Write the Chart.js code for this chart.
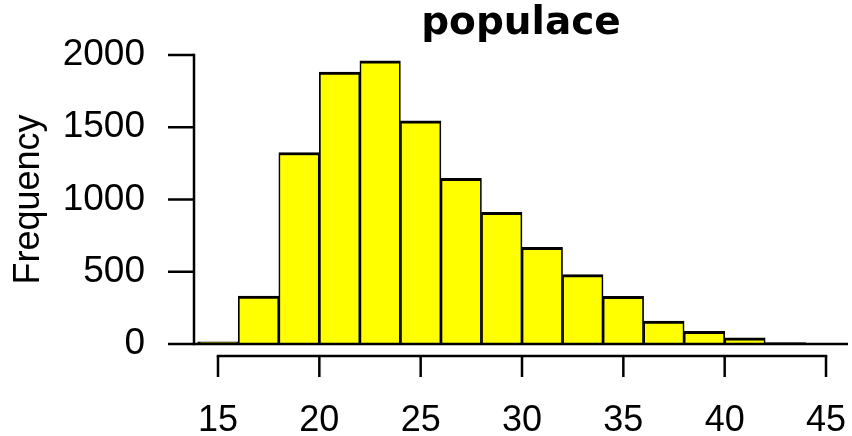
<!DOCTYPE html>
<html>
<head>
<meta charset="utf-8">
<title>populace</title>
<script src="https://cdn.jsdelivr.net/npm/chart.js@4"></script>
<style>
  html, body { margin: 0; padding: 0; background: #ffffff; }
  #wrap { width: 852px; height: 436px; }
</style>
</head>
<body>
<div id="wrap"><canvas id="hist" width="852" height="436"></canvas></div>
<script>
// Histogram of "populace": bins of width 2 starting at each value in binStarts
const binStarts = [14, 16, 18, 20, 22, 24, 26, 28, 30, 32, 34, 36, 38, 40, 42];
const binWidth = 2;
const frequencies = [15, 332, 1325, 1881, 1960, 1544, 1147, 912, 669, 480, 330, 159, 88, 42, 10];
const xTickValues = [15, 20, 25, 30, 35, 40, 45];
const yTickValues = [0, 500, 1000, 1500, 2000];
const chartTitle = 'populace';
const yAxisTitle = 'Frequency';

const FONT = "'Liberation Sans', Arial, Helvetica, sans-serif";
const TITLE_FONT = "'DejaVu Sans', 'Liberation Sans', sans-serif";

// R-style detached axes: y axis line + ticks, zero baseline, offset x axis
const baseAxes = {
  id: 'baseAxes',
  afterDatasetsDraw(chart) {
    const { ctx, chartArea, scales: { x, y } } = chart;
    ctx.save();
    ctx.strokeStyle = '#000';
    ctx.lineWidth = 2.5;
    ctx.lineCap = 'butt';
    const y0 = y.getPixelForValue(yTickValues[0]);
    const yTop = y.getPixelForValue(yTickValues[yTickValues.length - 1]);
    const axX = chartArea.left;
    // y axis line
    ctx.beginPath();
    ctx.moveTo(axX, y0 + 1.25);
    ctx.lineTo(axX, yTop - 1.25);
    ctx.stroke();
    // y ticks
    yTickValues.forEach(v => {
      const py = y.getPixelForValue(v);
      ctx.beginPath();
      ctx.moveTo(axX - 26, py);
      ctx.lineTo(axX, py);
      ctx.stroke();
    });
    // zero baseline across the plot
    ctx.beginPath();
    ctx.moveTo(axX, y0);
    ctx.lineTo(chartArea.right, y0);
    ctx.stroke();
    // x axis line, offset below the bars
    const axY = y0 + 12;
    const x1 = x.getPixelForValue(xTickValues[0]);
    const x2 = x.getPixelForValue(xTickValues[xTickValues.length - 1]);
    ctx.beginPath();
    ctx.moveTo(x1 - 1.25, axY);
    ctx.lineTo(x2 + 1.25, axY);
    ctx.stroke();
    xTickValues.forEach(v => {
      const px = x.getPixelForValue(v);
      ctx.beginPath();
      ctx.moveTo(px, axY);
      ctx.lineTo(px, axY + 21);
      ctx.stroke();
    });
    ctx.restore();
  }
};

const lastIdx = frequencies.length - 1;

new Chart(document.getElementById('hist'), {
  type: 'bar',
  data: {
    datasets: [{
      label: yAxisTitle,
      data: binStarts.map((s, i) => ({ x: s + binWidth / 2, y: frequencies[i] })),
      backgroundColor: '#FFFF00',
      borderColor: '#000000',
      borderWidth: (c) => ({
        top: 3,
        bottom: 0,
        left: c.dataIndex === 0 ? 3 : 1.7,
        right: c.dataIndex === lastIdx ? 3 : 1.7
      }),
      borderSkipped: 'start',
      barPercentage: 1,
      categoryPercentage: 1
    }]
  },
  options: {
    responsive: false,
    animation: false,
    events: [],
    layout: { padding: { left: 0, right: 4, top: 0, bottom: 0 } },
    plugins: {
      legend: { display: false },
      tooltip: { enabled: false },
      title: {
        display: true,
        text: chartTitle,
        fullSize: false,
        color: '#000',
        font: { family: TITLE_FONT, size: 39, weight: 'bold', lineHeight: 1.2 },
        padding: { top: 0, bottom: 8.2 }
      }
    },
    scales: {
      x: {
        type: 'linear',
        min: 13.816,
        max: 46.085,
        offset: false,
        grid: { display: false, drawTicks: false },
        border: { display: false },
        afterBuildTicks: (s) => { s.ticks = xTickValues.map(v => ({ value: v })); },
        afterFit: (s) => { s.height = 92; s.paddingLeft = 0; s.paddingRight = 0; },
        ticks: {
          color: '#000',
          font: { family: FONT, size: 36 },
          padding: 55,
          maxRotation: 0,
          autoSkip: false
        }
      },
      y: {
        min: 0,
        max: 2000,
        grid: { display: false, drawTicks: false },
        border: { display: false },
        afterBuildTicks: (s) => { s.ticks = yTickValues.map(v => ({ value: v })); },
        afterFit: (s) => { s.width = 194; s.paddingTop = 0; s.paddingBottom = 0; },
        ticks: {
          color: '#000',
          font: { family: FONT, size: 37 },
          padding: 49,
          autoSkip: false,
          callback: (v) => String(v)
        },
        title: {
          display: true,
          text: yAxisTitle,
          color: '#000',
          font: { family: FONT, size: 36 },
          padding: { top: 7, bottom: 0 }
        }
      }
    }
  },
  plugins: [baseAxes]
});
</script>
</body>
</html>
